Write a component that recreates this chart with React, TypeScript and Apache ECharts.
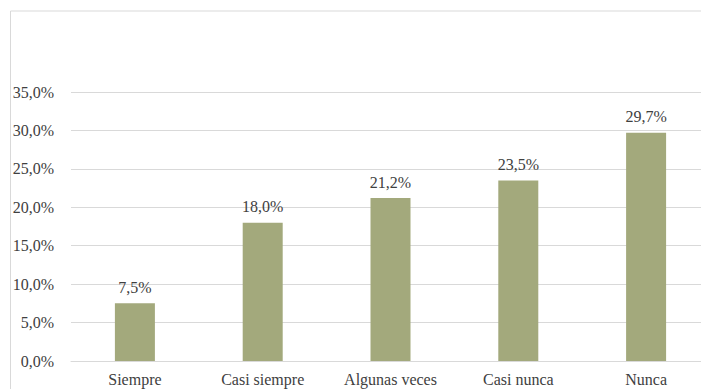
import React, { useEffect, useRef } from "react";
import * as echarts from "echarts";

const categories = ["Siempre", "Casi siempre", "Algunas veces", "Casi nunca", "Nunca"];
const values = [7.5, 18.0, 21.2, 23.5, 29.7];
const yTicks = [0, 5, 10, 15, 20, 25, 30, 35];

const fmt = (v: number) => v.toFixed(1).replace(".", ",") + "%";

export default function App() {
  const ref = useRef<HTMLDivElement>(null);

  useEffect(() => {
    if (!ref.current) return;
    const chart = echarts.init(ref.current, undefined, { renderer: "svg" });
    const font = "Times New Roman";
    chart.setOption({
      animation: false,
      textStyle: { fontFamily: font },
      graphic: [
        {
          type: "rect",
          shape: { x: 10.5, y: 11, width: 900, height: 600 },
          style: { fill: "none", stroke: "#d9d9d9", lineWidth: 1 },
          silent: true,
        },
      ],
      // plot area runs a little past the visible right edge
      grid: { left: 71, right: 0, top: 92, bottom: 28, containLabel: false },
      xAxis: {
        type: "category",
        data: categories,
        axisLine: { show: true, lineStyle: { color: "#d9d9d9" } },
        axisTick: { show: false },
        axisLabel: { color: "#404040", fontSize: 16, fontFamily: font, margin: 10, interval: 0 },
      },
      yAxis: {
        type: "value",
        min: yTicks[0],
        max: yTicks[yTicks.length - 1],
        interval: 5,
        axisLine: { show: false },
        axisTick: { show: false },
        splitLine: { lineStyle: { color: "#d9d9d9", width: 1 } },
        axisLabel: {
          color: "#404040",
          fontSize: 16,
          fontFamily: font,
          margin: 17,
          formatter: (v: number) => fmt(v),
        },
      },
      series: [
        {
          type: "bar",
          data: values,
          barWidth: 40,
          itemStyle: { color: "#a3a97c" },
          label: {
            show: true,
            position: "top",
            distance: 8,
            color: "#404040",
            fontSize: 16,
            fontFamily: font,
            formatter: (p: any) => fmt(p.value),
          },
        },
      ],
    });
    return () => chart.dispose();
  }, []);

  return (
    <div
      ref={ref}
      style={{ position: "fixed", left: 0, top: 0, width: 710, height: 389, background: "#ffffff" }}
    />
  );
}
